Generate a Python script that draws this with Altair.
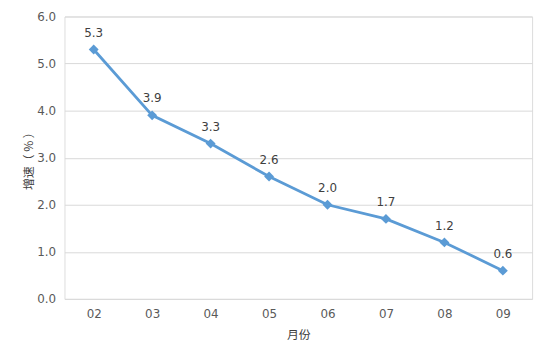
import altair as alt
import pandas as pd

months = ["02", "03", "04", "05", "06", "07", "08", "09"]
values = [5.3, 3.9, 3.3, 2.6, 2.0, 1.7, 1.2, 0.6]
labels = ["5.3", "3.9", "3.3", "2.6", "2.0", "1.7", "1.2", "0.6"]

df = pd.DataFrame({"month": months, "value": values, "label": labels})

FONT = "DejaVu Sans"
GREY = "#595959"

x = alt.X("month:O", title="月份", sort=months,
          scale=alt.Scale(paddingInner=1, paddingOuter=0.5),
          axis=alt.Axis(labelAngle=0, ticks=False, domain=False, grid=False,
                        labelPadding=10, labelFontSize=12, labelColor=GREY,
                        labelFont=FONT, titleFont="Noto Sans CJK SC",
                        titleFontSize=12, titleFontWeight="normal",
                        titleColor="#404040", titlePadding=10))
y = alt.Y("value:Q", title="增速（ % ）",
          scale=alt.Scale(domain=[0, 6]),
          axis=alt.Axis(values=[0, 1, 2, 3, 4, 5, 6], format=".1f",
                        ticks=False, domain=False, gridColor="#D9D9D9",
                        labelPadding=9, labelFontSize=12, labelColor=GREY,
                        labelFont=FONT, titleFont="Noto Sans CJK SC",
                        titleFontSize=12, titleFontWeight="normal",
                        titleColor="#404040", titlePadding=1))

base = alt.Chart(df)
line = base.mark_line(color="#5B9BD5", strokeWidth=2.8).encode(x=x, y=y)
pts = base.mark_point(shape="diamond", filled=True, size=100, color="#5B9BD5",
                      opacity=1).encode(x=x, y=y)
txt = base.mark_text(dy=-17, fontSize=12, font=FONT, color="#404040").encode(
    x=x, y=y, text="label:N")

chart = alt.layer(line, pts, txt).properties(
    width=472, height=285,
    autosize=alt.AutoSizeParams(type="none"),
    padding={"left": 57, "top": 7, "right": 10, "bottom": 50},
).configure_view(stroke=None).configure(background="white")

chart.save("out.html", embed_options={"renderer": "svg", "actions": False})
